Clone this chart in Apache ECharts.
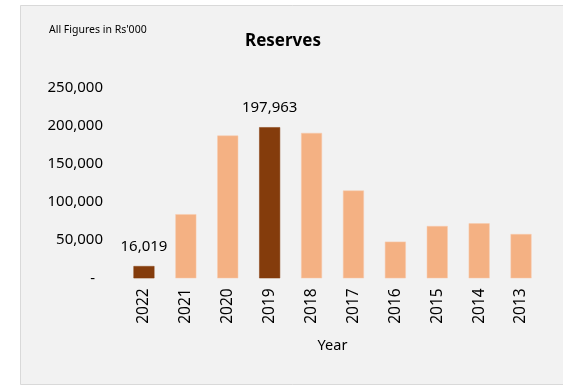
<!DOCTYPE html>
<html>
<head>
<meta charset="utf-8">
<script src="https://cdn.jsdelivr.net/npm/echarts@6/dist/echarts.min.js"></script>
<style>
  html, body { margin: 0; padding: 0; background: #ffffff; }
  #chart { width: 563px; height: 386px; }
</style>
</head>
<body>
<div id="chart"></div>
<script>
// Reserves by year (Rs'000)
const years = ['2022', '2021', '2020', '2019', '2018', '2017', '2016', '2015', '2014', '2013'];
const reserves = [16019, 84000, 187000, 197963, 190500, 115000, 48000, 68500, 72000, 58000];
// years whose bars are highlighted and labelled
const highlighted = ['2022', '2019'];
const yTicks = [0, 50000, 100000, 150000, 200000, 250000];

const DARK = '#843c0c';
const LIGHT = '#f4b183';
const FONT = 'Noto Sans';

// accounting-style numbers: zero shows as a dash
const fmt = v => v === 0 ? '-  ' : v.toLocaleString('en-US');

const chart = echarts.init(document.getElementById('chart'), null, { renderer: 'canvas' });

chart.setOption({
  animation: false,
  backgroundColor: '#ffffff',
  textStyle: { fontFamily: FONT },
  graphic: [
    {
      type: 'rect',
      z: -10,
      shape: { x: 20.5, y: 5.5, width: 560, height: 379 },
      style: { fill: '#f2f2f2', stroke: '#d9d9d9', lineWidth: 1 }
    },
    {
      type: 'text',
      left: 49,
      top: 25,
      style: { text: "All Figures in Rs'000", fontSize: 10.5, fontFamily: FONT, fill: '#000000' }
    }
  ],
  title: {
    text: 'Reserves',
    left: 278,
    top: 28,
    textAlign: 'center',
    textStyle: { fontSize: 17, fontWeight: 'bold', fontFamily: FONT, color: '#000000' }
  },
  grid: { left: 123, right: 21, top: 87.5, bottom: 107.7, containLabel: false },
  xAxis: {
    type: 'category',
    data: years,
    axisLine: { show: false },
    axisTick: { show: false },
    axisLabel: { rotate: 90, margin: 10, fontSize: 15.5, color: '#000000', fontFamily: FONT },
    name: 'Year',
    nameLocation: 'middle',
    nameGap: 60,
    nameTextStyle: { fontSize: 14.5, color: '#000000', fontFamily: FONT }
  },
  yAxis: {
    type: 'value',
    min: yTicks[0],
    max: yTicks[yTicks.length - 1],
    interval: yTicks[1] - yTicks[0],
    splitLine: { show: false },
    axisLine: { show: false },
    axisTick: { show: false },
    axisLabel: { margin: 20, fontSize: 15, color: '#000000', fontFamily: FONT, formatter: fmt }
  },
  series: [{
    type: 'bar',
    barWidth: '50%',
    data: reserves.map((v, i) => {
      const hi = highlighted.includes(years[i]);
      return {
        value: v,
        itemStyle: { color: hi ? DARK : LIGHT, borderColor: hi ? DARK : '#f8cbad', borderWidth: 0.5 },
        label: {
          show: hi,
          position: 'top',
          distance: 12,
          fontSize: 15,
          color: '#000000',
          fontFamily: FONT,
          formatter: p => fmt(p.value)
        }
      };
    })
  }]
});
</script>
</body>
</html>
